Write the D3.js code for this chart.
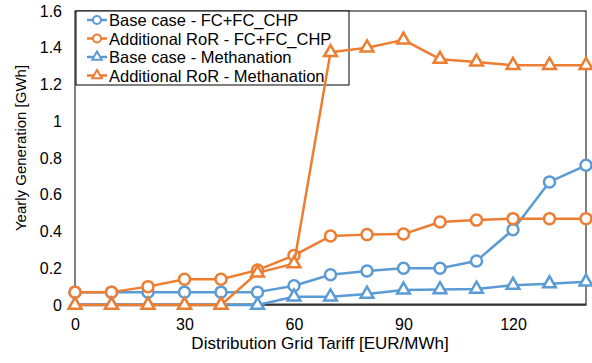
<!DOCTYPE html>
<html>
<head>
<meta charset="utf-8">
<script src="https://cdn.jsdelivr.net/npm/d3@7/dist/d3.min.js"></script>
<style>
  html, body { margin: 0; padding: 0; background: #fff; }
  svg { display: block; font-family: "Liberation Sans", Arial, sans-serif; }
</style>
</head>
<body>
<svg id="chart" width="592" height="363"></svg>
<script>
// Distribution grid tariff steps [EUR/MWh]
const tariffs = [0, 10, 20, 30, 40, 50, 60, 70, 80, 90, 100, 110, 120, 130, 140];

// Yearly generation [GWh] per scenario
const baseFC       = [0.07, 0.07, 0.07, 0.07, 0.07, 0.07, 0.105, 0.165, 0.185, 0.2, 0.2, 0.24, 0.41, 0.67, 0.76];
const addRoRFC     = [0.07, 0.07, 0.1, 0.14, 0.14, 0.19, 0.27, 0.375, 0.383, 0.386, 0.452, 0.462, 0.47, 0.47, 0.47];
const baseMeth     = [0, 0, 0, 0, 0, 0, 0.045, 0.045, 0.06, 0.082, 0.084, 0.087, 0.108, 0.116, 0.126];
const addRoRMeth   = [0, 0, 0, 0, 0, 0.175, 0.225, 1.375, 1.4, 1.443, 1.338, 1.323, 1.305, 1.305, 1.305];

const seriesNames  = ["Base case - FC+FC_CHP", "Additional RoR - FC+FC_CHP",
                      "Base case - Methanation", "Additional RoR - Methanation"];
const xTicks = [0, 30, 60, 90, 120];
const yTicks = [0, 0.2, 0.4, 0.6, 0.8, 1, 1.2, 1.4, 1.6];

const blue = "#5B9BD5", orange = "#ED7D31";
const series = [
  { name: seriesNames[0], values: baseFC,     color: blue,   shape: "circle" },
  { name: seriesNames[1], values: addRoRFC,   color: orange, shape: "circle" },
  { name: seriesNames[2], values: baseMeth,   color: blue,   shape: "triangle" },
  { name: seriesNames[3], values: addRoRMeth, color: orange, shape: "triangle" }
];

const svg = d3.select("#chart");
const m = { left: 75, right: 586, top: 11, bottom: 305 };

const x = d3.scaleLinear().domain([0, 140]).range([m.left, m.right]);
const y = d3.scaleLinear().domain([0, 1.6]).range([m.bottom, m.top]);

// plot frame
svg.append("rect")
  .attr("x", m.left).attr("y", m.top)
  .attr("width", m.right - m.left).attr("height", m.bottom - m.top)
  .attr("fill", "none").attr("stroke", "#000").attr("stroke-width", 1);

// y axis labels
const yAxis = d3.axisLeft(y).tickValues(yTicks).tickSize(0).tickPadding(13)
  .tickFormat(d => d3.format("~g")(d));
const gy = svg.append("g").attr("transform", `translate(${m.left},0)`).call(yAxis);
gy.select(".domain").remove();
gy.selectAll("text").attr("font-size", 16).attr("fill", "#000")
  .attr("font-family", "Liberation Sans, Arial, sans-serif");

// x axis labels
const xAxis = d3.axisBottom(x).tickValues(xTicks).tickSize(0).tickPadding(14);
const gx = svg.append("g").attr("transform", `translate(0,${m.bottom})`).call(xAxis);
gx.select(".domain").remove();
gx.selectAll("text").attr("font-size", 16).attr("fill", "#000")
  .attr("font-family", "Liberation Sans, Arial, sans-serif");

// bottom axis line
svg.append("line")
  .attr("x1", m.left).attr("x2", m.right)
  .attr("y1", m.bottom - 0.5).attr("y2", m.bottom - 0.5)
  .attr("stroke", "#333").attr("stroke-width", 2);

// axis titles
svg.append("text")
  .attr("x", 320).attr("y", 349)
  .attr("text-anchor", "middle").attr("font-size", 17)
  .text("Distribution Grid Tariff [EUR/MWh]");
svg.append("text")
  .attr("transform", "translate(26,148) rotate(-90)")
  .attr("text-anchor", "middle").attr("font-size", 15)
  .text("Yearly Generation [GWh]");

// legend (sits beneath the data lines)
const lg = svg.append("g");
lg.append("rect").attr("x", 76).attr("y", 11).attr("width", 273).attr("height", 74)
  .attr("fill", "#fff").attr("stroke", "#000").attr("stroke-width", 1);
series.forEach((s, i) => {
  const ly = 20 + i * 18.5;
  lg.append("line").attr("x1", 87).attr("x2", 107).attr("y1", ly).attr("y2", ly)
    .attr("stroke", s.color).attr("stroke-width", 2.5);
  if (s.shape === "circle") {
    lg.append("circle").attr("cx", 97).attr("cy", ly).attr("r", 4)
      .attr("fill", "#fff").attr("stroke", s.color).attr("stroke-width", 2);
  } else {
    lg.append("path").attr("d", d3.symbol().type(d3.symbolTriangle).size(40)())
      .attr("transform", `translate(97,${ly})`)
      .attr("fill", "#fff").attr("stroke", s.color).attr("stroke-width", 2);
  }
  lg.append("text").attr("x", 109).attr("y", ly + 6).attr("font-size", 16.5)
    .text(s.name);
});

const line = d3.line().x((d, i) => x(tariffs[i])).y(d => y(d));
const tri = d3.symbol().type(d3.symbolTriangle).size(70);

function drawMarker(g, shape, color, cx, cy) {
  if (shape === "circle") {
    g.append("circle").attr("cx", cx).attr("cy", cy).attr("r", 5.5)
      .attr("fill", "#fff").attr("stroke", color).attr("stroke-width", 2.5);
  } else {
    g.append("path").attr("d", tri())
      .attr("transform", `translate(${cx},${cy})`)
      .attr("fill", "#fff").attr("stroke", color).attr("stroke-width", 2.5)
      .attr("stroke-linejoin", "miter");
  }
}

// series lines with hollow markers, drawn in legend order
series.forEach(s => {
  const g = svg.append("g");
  g.append("path").attr("d", line(s.values))
    .attr("fill", "none").attr("stroke", s.color).attr("stroke-width", 2.5)
    .attr("stroke-linejoin", "round");
  s.values.forEach((v, i) => drawMarker(g, s.shape, s.color, x(tariffs[i]), y(v)));
});
</script>
</body>
</html>
